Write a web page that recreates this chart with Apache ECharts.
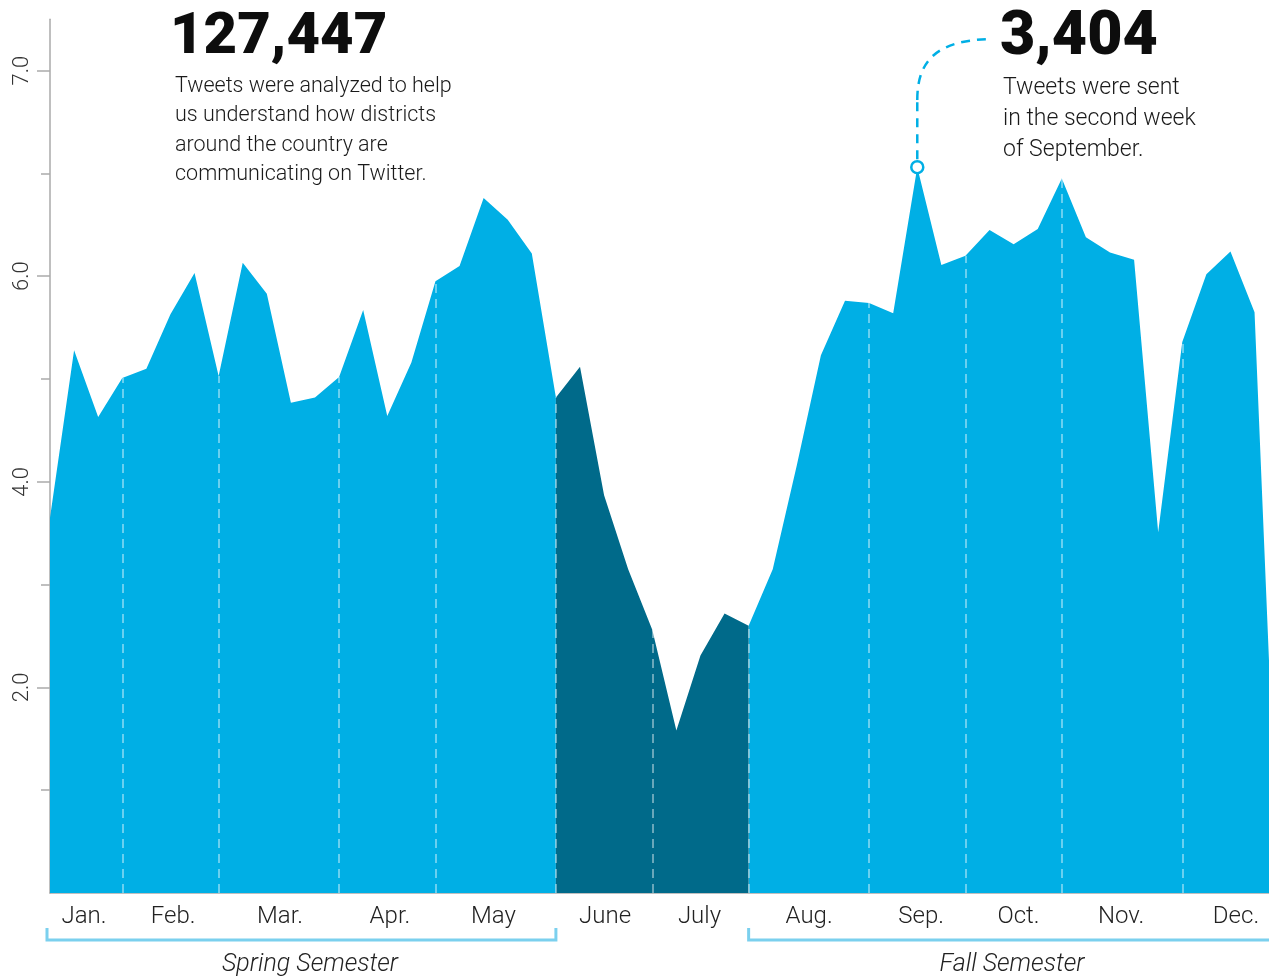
<!DOCTYPE html>
<html>
<head>
<meta charset="utf-8">
<script src="https://cdn.jsdelivr.net/npm/echarts@6/dist/echarts.min.js"></script>
<style>
html,body{margin:0;padding:0;background:#fff}
#chart{width:1269px;height:978px}
</style>
</head>
<body>
<div id="chart"></div>
<script>
// weekly tweet volume, one value per week of the year
var weekly = [3.65,5.28,4.63,5.01,5.10,5.63,6.03,5.03,6.13,5.83,
  4.77,4.82,5.02,5.67,4.64,5.16,5.95,6.10,6.76,6.55,
  6.22,4.82,5.12,3.87,3.15,2.56,1.58,2.31,2.72,2.60,
  3.15,4.16,5.23,5.76,5.74,5.64,7.06,6.11,6.20,6.45,
  6.31,6.46,6.95,6.38,6.23,6.16,3.51,5.36,6.02,6.24,
  5.65,0];
var summerStart = 21, summerEnd = 29;           // weeks drawn dark
var monthBreaks = [3,7,12,16,21,25,29,34,38,42,47];
var months = ['Jan.','Feb.','Mar.','Apr.','May','June','July','Aug.','Sep.','Oct.','Nov.','Dec.'];
var monthPos = [1.41,5.11,9.55,14.11,18.41,23.04,26.96,31.51,36.16,40.2,44.46,49.23];
var yLabelVals = [2,4,6,8];
var yLabelText = ['2.0','4.0','6.0','7.0'];
var yMinorVals = [1,3,5,7];
var peakWeek = 36;

var LIGHT = '#00afe5', DARK = '#006a8a', BRACKET = '#7bd0ee';
var FONT = 'Roboto';

var lightData = weekly.map(function(v,i){
  return (i > summerStart && i < summerEnd) ? [i,'-'] : [i,v];
});
var darkData = [];
for (var i = summerStart; i <= summerEnd; i++) darkData.push([i, weekly[i]]);

var breakLines = monthBreaks.map(function(w){
  return [{coord:[w,0]},{coord:[w,weekly[w]]}];
});

var chart = echarts.init(document.getElementById('chart'));
chart.setOption({
  animation:false,
  grid:{left:50,right:0,top:19.2,bottom:85,outerBoundsMode:'none'},
  xAxis:{
    type:'value',min:0,max:50.6,
    axisLine:{lineStyle:{color:'#aaa',width:1.5}},
    axisTick:{show:false},
    splitLine:{show:false},
    axisLabel:{
      customValues:monthPos,margin:12,fontSize:24,fontWeight:300,fontFamily:FONT,color:'#222',
      formatter:function(v){
        var best=0;
        for (var k=0;k<monthPos.length;k++) if (Math.abs(monthPos[k]-v)<Math.abs(monthPos[best]-v)) best=k;
        return months[best];
      }
    }
  },
  yAxis:[{
    type:'value',min:0,max:8.5,position:'left',
    axisLine:{show:true,lineStyle:{color:'#aaa',width:1.5}},
    axisTick:{show:true,customValues:yLabelVals,length:13,lineStyle:{color:'#aaa',width:1.5}},
    splitLine:{show:false},
    axisLabel:{
      customValues:yLabelVals,rotate:90,margin:17,fontSize:22,fontWeight:300,fontFamily:FONT,color:'#333',
      formatter:function(v){ return yLabelText[yLabelVals.indexOf(v)] || ''; }
    }
  },{
    type:'value',min:0,max:8.5,position:'left',
    axisLine:{show:false},
    axisTick:{show:true,customValues:yMinorVals,length:9,lineStyle:{color:'#aaa',width:1.5}},
    axisLabel:{show:false},
    splitLine:{show:false}
  }],
  series:[{
    type:'line',data:lightData,showSymbol:false,connectNulls:false,
    lineStyle:{width:0},areaStyle:{color:LIGHT,opacity:1},
    markLine:{
      silent:true,symbol:'none',label:{show:false},
      lineStyle:{color:'rgba(255,255,255,0.55)',width:1.5,type:[9,6]},
      data:breakLines
    }
  },{
    type:'line',data:darkData,showSymbol:false,
    lineStyle:{width:0},areaStyle:{color:DARK,opacity:1}
  },{
    type:'line',data:[[peakWeek,weekly[peakWeek]]],showSymbol:true,symbol:'circle',symbolSize:12,
    lineStyle:{width:0},z:6,
    itemStyle:{color:'#fff',borderColor:LIGHT,borderWidth:2.5}
  }]
});

var p0 = chart.convertToPixel({gridIndex:0},[0,0]);
var pS = chart.convertToPixel({gridIndex:0},[summerStart,0]);
var pE = chart.convertToPixel({gridIndex:0},[summerEnd,0]);
var pk = chart.convertToPixel({gridIndex:0},[peakWeek,weekly[peakWeek]]);
var by = 940, bt = 928;
var dash = {stroke:LIGHT,lineWidth:2.5,lineDash:[9,7],fill:null};

chart.setOption({
  graphic:[
    {type:'text',z:100,x:170,y:38,style:{text:'127,447',font:'900 58px '+FONT,fill:'#0d0d0d',verticalAlign:'middle'}},
    {type:'text',z:100,x:175,y:72,style:{text:'Tweets were analyzed to help\nus understand how districts\naround the country are\ncommunicating on Twitter.',
      font:'300 21.5px '+FONT,fill:'#1a1a1a',lineHeight:29.3,verticalAlign:'top'}},
    {type:'text',z:100,x:1000,y:39,style:{text:'3,404',font:'900 61px '+FONT,fill:'#0d0d0d',verticalAlign:'middle'}},
    {type:'text',z:100,x:1003,y:73,style:{text:'Tweets were sent\nin the second week\nof September.',
      font:'300 23px '+FONT,fill:'#1a1a1a',lineHeight:30.7,verticalAlign:'top'}},
    {type:'line',z:100,shape:{x1:pk[0],y1:pk[1]-8,x2:pk[0],y2:100},style:dash},
    {type:'bezierCurve',z:100,shape:{x1:pk[0],y1:100,cpx1:pk[0],cpy1:58,cpx2:pk[0]+22,cpy2:40,x2:pk[0]+75,y2:39},style:dash},
    {type:'polyline',z:100,shape:{points:[[p0[0]-3,bt],[p0[0]-3,by],[pS[0],by],[pS[0],bt]]},style:{stroke:BRACKET,lineWidth:3,fill:null}},
    {type:'polyline',z:100,shape:{points:[[pE[0],bt],[pE[0],by],[1275,by]]},style:{stroke:BRACKET,lineWidth:3,fill:null}},
    {type:'text',z:100,x:310,y:965,style:{text:'Spring Semester',font:'italic 300 25px '+FONT,fill:'#222',align:'center',verticalAlign:'middle'}},
    {type:'text',z:100,x:1012,y:965,style:{text:'Fall Semester',font:'italic 300 25px '+FONT,fill:'#222',align:'center',verticalAlign:'middle'}}
  ]
});
</script>
</body>
</html>
